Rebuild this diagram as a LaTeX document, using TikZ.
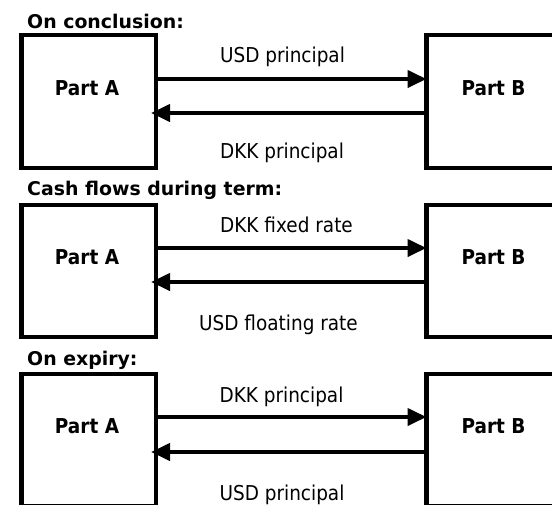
\documentclass[tikz,border=0pt]{standalone}
\usepackage{fontspec}
\setmainfont{DejaVu Sans}
\newfontfamily\labfont[FakeStretch=0.9]{DejaVu Sans}
\usetikzlibrary{arrows.meta,positioning}
\tikzset{
  partybox/.style={draw=black, line width=4.5pt, minimum width=134.5pt, inner sep=0pt, outer sep=0pt},
  flow/.style={line width=4pt, -{Triangle[length=19pt,width=17pt]}},
  backflow/.style={flow, shorten >=-5pt},
  heading/.style={anchor=base west, inner sep=0pt, font=\fontsize{18.9}{22}\selectfont\bfseries},
  flowlabel/.style={anchor=base, inner sep=0pt, font=\labfont\fontsize{20.5}{24}\selectfont},
  partlabel/.style={anchor=base, inner sep=0pt, font=\labfont\fontsize{20.5}{24}\selectfont\bfseries}
}
\begin{document}
\begin{tikzpicture}[x=1pt,y=-1pt]
\useasboundingbox (0,0) rectangle (552,504);
\clip (0,0) rectangle (552,504);
% headings
\node[heading] (h1) at (27,28.5) {On conclusion:};
\node[heading] (h2) at (27,195) {Cash flows during term:};
\node[heading] (h3) at (27,365) {On expiry:};
% boxes
\node[partybox, minimum height=133pt] (A1) at (88.75,101.5) {};
\node[partybox, minimum height=133pt] (B1) at (493.75,101.5) {};
\node[partybox, minimum height=132pt] (A2) at (88.75,271) {};
\node[partybox, minimum height=132pt] (B2) at (493.75,271) {};
\node[partybox, minimum height=132pt] (A3) at (88.75,440) {};
\node[partybox, minimum height=132pt] (B3) at (493.75,440) {};
% party names
\node[partlabel] (pa1) at (87,95) {Part A};
\node[partlabel] (pb1) at (493.5,95) {Part B};
\node[partlabel] (pa2) at (87,264) {Part A};
\node[partlabel] (pb2) at (493.5,264) {Part B};
\node[partlabel] (pa3) at (87,433) {Part A};
\node[partlabel] (pb3) at (493.5,433) {Part B};
% flows
\draw[flow] ([yshift=-44pt]A1.north east) -- ([yshift=-44pt]B1.north west);
\draw[backflow] ([yshift=-78pt]B1.north west) -- ([yshift=-78pt]A1.north east);
\draw[flow] ([yshift=-43pt]A2.north east) -- ([yshift=-43pt]B2.north west);
\draw[backflow] ([yshift=-77pt]B2.north west) -- ([yshift=-77pt]A2.north east);
\draw[flow] ([yshift=-43pt]A3.north east) -- ([yshift=-43pt]B3.north west);
\draw[backflow] ([yshift=-78pt]B3.north west) -- ([yshift=-78pt]A3.north east);
% flow labels
\node[flowlabel] (l1) at (282.5,62.5) {USD principal};
\node[flowlabel] (l2) at (282,158) {DKK principal};
\node[flowlabel] (l3) at (286.5,232) {DKK fixed rate};
\node[flowlabel] (l4) at (278.5,330) {USD floating rate};
\node[flowlabel] (l5) at (281.5,402) {DKK principal};
\node[flowlabel] (l6) at (282,500) {USD principal};
\end{tikzpicture}
\end{document}
